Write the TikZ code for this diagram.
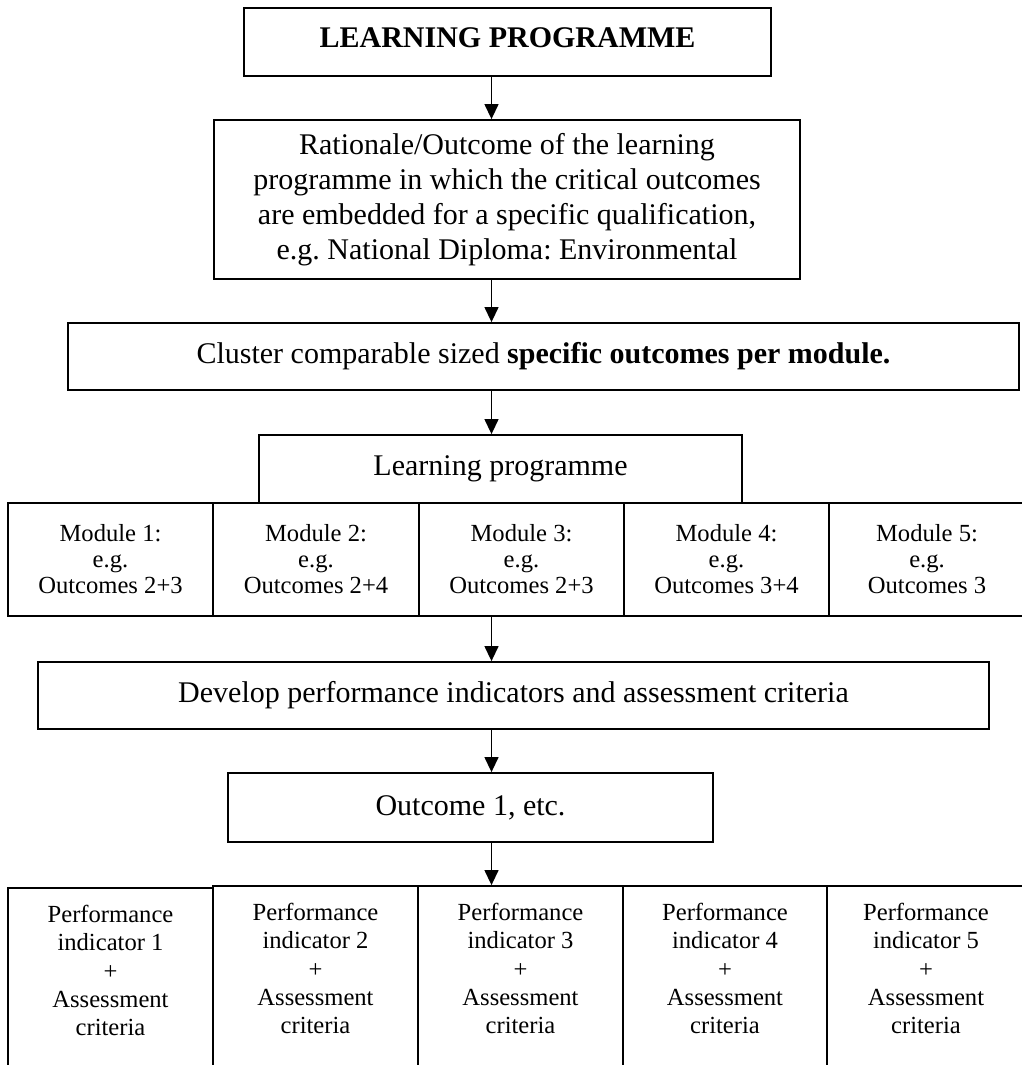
\documentclass[tikz,border=0pt]{standalone}
\usepackage{fontspec}
\setmainfont{Liberation Serif}
\usetikzlibrary{arrows.meta}
\begin{document}
\frenchspacing
\begin{tikzpicture}[x={(1pt,0pt)},y={(0pt,-1pt)},
  box/.style={draw,line width=1.8pt,inner sep=0pt,align=center},
  big/.style={font=\fontsize{30}{35}\selectfont},
  modtext/.style={font=\fontsize{24.6}{26}\selectfont},
  perftext/.style={font=\fontsize{24.6}{28.3}\selectfont,align=center,inner sep=0pt,anchor=north},
  arr/.style={line width=1.3pt,-{Triangle[length=15pt,width=14pt]}}]
\useasboundingbox (0,0) rectangle (1021,1065);
\coordinate (ax) at (491.5,0);

\node[box,minimum width=527pt,minimum height=68pt] (lp) at (507.5,42) {};
\node[big,inner sep=0pt] (lpt) at (507.5,38) {\textbf{LEARNING PROGRAMME}};
\node[box,big,minimum width=586pt,minimum height=159pt] (rat) at (507,199.5)
  {Rationale/Outcome of the learning\\programme in which the critical outcomes\\are embedded for a specific qualification,\\e.g. National Diploma: Environmental};
\node[box,big,minimum width=951pt,minimum height=67pt] (clu) at (543.5,356.5)
  {Cluster comparable sized \textbf{specific outcomes per module.}};
\node[box,big,minimum width=483pt,minimum height=68pt] (lpr) at (500.5,469) {Learning programme};

\node[box,modtext,minimum width=205pt,minimum height=113pt] (m1) at (110.5,559.5) {Module 1:\\e.g.\\Outcomes 2+3};
\node[box,modtext,minimum width=206pt,minimum height=113pt] (m2) at (316,559.5) {Module 2:\\e.g.\\Outcomes 2+4};
\node[box,modtext,minimum width=205pt,minimum height=113pt] (m3) at (521.5,559.5) {Module 3:\\e.g.\\Outcomes 2+3};
\node[box,modtext,minimum width=205pt,minimum height=113pt] (m4) at (726.5,559.5) {Module 4:\\e.g.\\Outcomes 3+4};
\node[box,modtext,minimum width=196pt,minimum height=113pt] (m5) at (927,559.5) {Module 5:\\e.g.\\Outcomes 3};

\node[box,big,minimum width=951pt,minimum height=67pt] (dev) at (513.5,695.5)
  {Develop performance indicators and assessment criteria};
\node[box,big,minimum width=485pt,minimum height=69pt] (out) at (470.5,807.5) {Outcome 1, etc.};

\node[box,minimum width=205pt,minimum height=192pt] (p1) at (110.5,984) {};
\node[box,minimum width=205pt,minimum height=194pt] (p2) at (315.5,983) {};
\node[box,minimum width=205pt,minimum height=194pt] (p3) at (520.5,983) {};
\node[box,minimum width=204pt,minimum height=194pt] (p4) at (725,983) {};
\node[box,minimum width=198pt,minimum height=194pt] (p5) at (926,983) {};

\node[perftext] (t1) at (110.5,905) {Performance\\indicator 1\\+\\Assessment\\criteria};
\node[perftext] (t2) at (315.5,903) {Performance\\indicator 2\\+\\Assessment\\criteria};
\node[perftext] (t3) at (520.5,903) {Performance\\indicator 3\\+\\Assessment\\criteria};
\node[perftext] (t4) at (725,903) {Performance\\indicator 4\\+\\Assessment\\criteria};
\node[perftext] (t5) at (926,903) {Performance\\indicator 5\\+\\Assessment\\criteria};

\draw[arr] (lp.south -| ax) -- (rat.north -| ax);
\draw[arr] (rat.south -| ax) -- (clu.north -| ax);
\draw[arr] (clu.south -| ax) -- (lpr.north -| ax);
\draw[arr] (m3.south -| ax) -- (dev.north -| ax);
\draw[arr] (dev.south -| ax) -- (out.north -| ax);
\draw[arr] (out.south -| ax) -- (p3.north -| ax);
\end{tikzpicture}
\end{document}
